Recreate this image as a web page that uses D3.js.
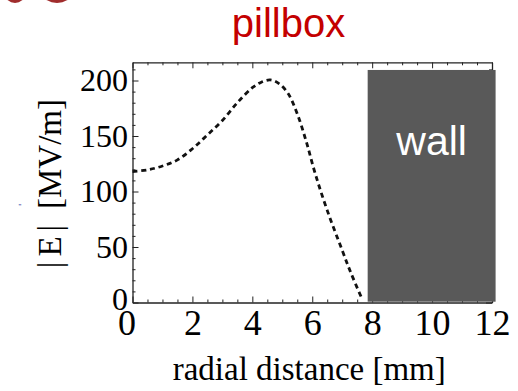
<!DOCTYPE html>
<html>
<head>
<meta charset="utf-8">
<script src="https://cdn.jsdelivr.net/npm/d3@7"></script>
<style>
  body { margin: 0; background: #fff; }
  svg { display: block; }
</style>
</head>
<body>
<div id="chart"></div>
<script>
// field profile
const radius = [0, 0.5, 1, 1.5, 2, 2.5, 3, 3.5, 4, 4.3, 4.6, 4.9, 5.2, 5.5, 5.8, 6.1, 6.5, 7, 7.3, 7.65];
const field = [118, 119.5, 123, 128.5, 138.5, 151, 164, 180, 193.5, 198.5, 200.5, 197, 188, 170, 145, 116, 83, 47, 26, 4];

const xTicks = [0, 2, 4, 6, 8, 10, 12];
const yTicks = [0, 50, 100, 150, 200];

// wall region [mm] x [MV/m]
const wallStart = 7.85;
const wallEnd = 12.12;
const wallTop = 209.5;

const width = 518, height = 391;
const frame = { left: 132.5, right: 492, top: 62.3, bottom: 302.5 };

const svg = d3.select('#chart')
    .append('svg')
    .attr('width', width)
    .attr('height', height);

const xScale = d3.scaleLinear().domain([0, 12]).range([frame.left, frame.right]);
const yScale = d3.scaleLinear().domain([0, 216.4]).range([frame.bottom, frame.top]);

// red fragments cut off at the top-left corner
svg.append('ellipse').attr('cx', 15).attr('cy', -6).attr('rx', 10).attr('ry', 9).attr('fill', '#a02c2c');
svg.append('ellipse').attr('cx', 57).attr('cy', -6).attr('rx', 14).attr('ry', 9).attr('fill', '#a02c2c');

// title
svg.append('text')
    .attr('x', 288.5)
    .attr('y', 36.5)
    .attr('text-anchor', 'middle')
    .style('font-family', 'Liberation Sans, Arial, sans-serif')
    .style('font-size', '40px')
    .style('fill', '#c40000')
    .text('pillbox');

const frameColor = '#222';

// minor ticks
const minorX = d3.range(0, 12.01, 0.5).filter(v => v % 2 !== 0);
const minorY = d3.range(0, 216, 10).filter(v => v % 50 !== 0);

const minorGroups = [
    svg.append('g').attr('transform', `translate(0, ${frame.bottom})`)
        .call(d3.axisBottom(xScale).tickValues(minorX).tickSize(-3).tickFormat('')),
    svg.append('g').attr('transform', `translate(0, ${frame.top})`)
        .call(d3.axisTop(xScale).tickValues(minorX).tickSize(-3).tickFormat('')),
    svg.append('g').attr('transform', `translate(${frame.left}, 0)`)
        .call(d3.axisLeft(yScale).tickValues(minorY).tickSize(-3).tickFormat('')),
    svg.append('g').attr('transform', `translate(${frame.right}, 0)`)
        .call(d3.axisRight(yScale).tickValues(minorY).tickSize(-3).tickFormat(''))
];
minorGroups.forEach(g => {
    g.select('.domain').remove();
    g.selectAll('line').attr('stroke', frameColor).attr('stroke-width', 1);
});

// major axes
const xAxis = svg.append('g')
    .attr('transform', `translate(0, ${frame.bottom})`)
    .call(d3.axisBottom(xScale).tickValues(xTicks).tickSize(-6).tickSizeOuter(0).tickPadding(7));

const xTop = svg.append('g')
    .attr('transform', `translate(0, ${frame.top})`)
    .call(d3.axisTop(xScale).tickValues(xTicks).tickSize(-6).tickSizeOuter(0).tickFormat(''));

const yAxis = svg.append('g')
    .attr('transform', `translate(${frame.left}, 0)`)
    .call(d3.axisLeft(yScale).tickValues(yTicks).tickSize(-6).tickSizeOuter(0).tickPadding(4.5));

const yRight = svg.append('g')
    .attr('transform', `translate(${frame.right}, 0)`)
    .call(d3.axisRight(yScale).tickValues(yTicks).tickSize(-6).tickSizeOuter(0).tickFormat(''));

[xAxis, xTop, yAxis, yRight].forEach(g => {
    g.select('.domain').attr('stroke', frameColor).attr('stroke-width', 1.3);
    g.selectAll('line').attr('stroke', frameColor).attr('stroke-width', 1);
});

xAxis.selectAll('text')
    .style('font-family', 'Liberation Serif, Times New Roman, serif')
    .style('font-size', '36px')
    .style('fill', '#000')
    .attr('dx', d => d === 0 ? -6 : 0);

yAxis.selectAll('text')
    .style('font-family', 'Liberation Serif, Times New Roman, serif')
    .style('font-size', '32px')
    .style('fill', '#000')
    .attr('dy', d => d === 0 ? '0.22em' : '0.32em');

// field curve
const line = d3.line()
    .x((d, i) => xScale(radius[i]))
    .y(d => yScale(d))
    .curve(d3.curveCatmullRom.alpha(0.5));

svg.append('path')
    .datum(field)
    .attr('fill', 'none')
    .attr('stroke', '#111')
    .attr('stroke-width', 2.8)
    .attr('stroke-dasharray', '5,3.8')
    .attr('d', line);

// wall block
svg.append('rect')
    .attr('x', xScale(wallStart))
    .attr('y', yScale(wallTop))
    .attr('width', xScale(wallEnd) - xScale(wallStart))
    .attr('height', yScale(0) - yScale(wallTop) - 0.8)
    .attr('fill', '#595959');

svg.append('text')
    .attr('x', xScale((wallStart + wallEnd) / 2))
    .attr('y', 155)
    .attr('text-anchor', 'middle')
    .style('font-family', 'Liberation Sans, Arial, sans-serif')
    .style('font-size', '41px')
    .style('fill', '#fff')
    .text('wall');

// axis titles
svg.append('text')
    .attr('x', (xScale(0) + xScale(12)) / 2 - 3)
    .attr('y', 380)
    .attr('text-anchor', 'middle')
    .style('font-family', 'Liberation Serif, Times New Roman, serif')
    .style('font-size', '33px')
    .style('fill', '#000')
    .text('radial distance [mm]');

const yTitle = svg.append('g')
    .attr('transform', 'translate(61, 0) rotate(-90)')
    .style('font-family', 'Liberation Serif, Times New Roman, serif')
    .style('font-size', '33px')
    .style('fill', '#000');

yTitle.append('text')
    .attr('x', -244)
    .attr('text-anchor', 'middle')
    .style('letter-spacing', '5px')
    .text('|E|');

yTitle.append('text')
    .attr('x', -154)
    .attr('text-anchor', 'middle')
    .text('[MV/m]');

// stray blue mark at the left edge
svg.append('text')
    .attr('x', 20)
    .attr('y', 209)
    .attr('text-anchor', 'middle')
    .style('font-family', 'Liberation Sans, Arial, sans-serif')
    .style('font-size', '8px')
    .style('fill', '#2b3c9c')
    .text('"');
</script>
</body>
</html>
